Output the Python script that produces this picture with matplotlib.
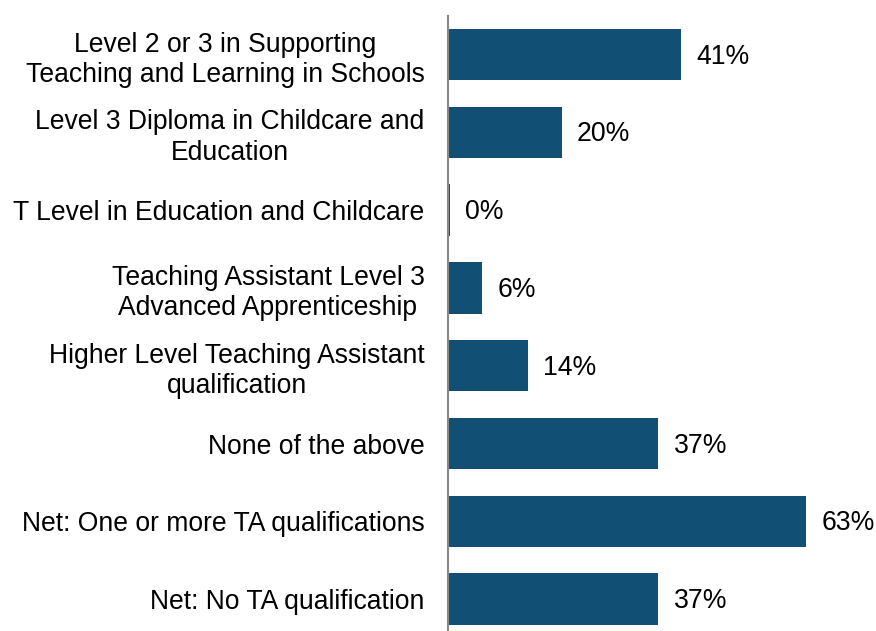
import matplotlib
matplotlib.use("Agg")
import matplotlib.pyplot as plt

plt.rcParams['font.family'] = ['Liberation Sans', 'DejaVu Sans']

labels = [
    "Level 2 or 3 in Supporting\nTeaching and Learning in Schools",
    "Level 3 Diploma in Childcare and\nEducation",
    "T Level in Education and Childcare",
    "Teaching Assistant Level 3\nAdvanced Apprenticeship",
    "Higher Level Teaching Assistant\nqualification",
    "None of the above",
    "Net: One or more TA qualifications",
    "Net: No TA qualification",
]
values = [41, 20, 0.3, 6, 14, 37, 63, 37]
value_labels = ["41%", "20%", "0%", "6%", "14%", "37%", "63%", "37%"]

bar_color = "#124F74"

fig = plt.figure(figsize=(8.76, 6.31), dpi=100)
ax = fig.add_axes([0.5114, 0.0, 0.4543, 0.9746])

y = list(range(len(labels)))
ax.barh(y, values, height=0.66, color=bar_color)

for yi, v, txt in zip(y, values, value_labels):
    ax.annotate(txt, (v, yi), xytext=(11, -1.5), textcoords="offset points",
                va="center", ha="left", fontsize=19.2, color="black")

ax.set_yticks(y)
ax.set_yticklabels(labels, fontsize=19.1, linespacing=1.22, multialignment="center")
ax.tick_params(axis="y", length=0, pad=17)
ax.set_xticks([])
ax.set_xlim(0, 70)
ax.set_ylim(7.41, -0.495)

for side in ["top", "right", "bottom"]:
    ax.spines[side].set_visible(False)
ax.spines["left"].set_color("#898989")
ax.spines["left"].set_linewidth(1.5)

fig.savefig("out.png", dpi=100)
